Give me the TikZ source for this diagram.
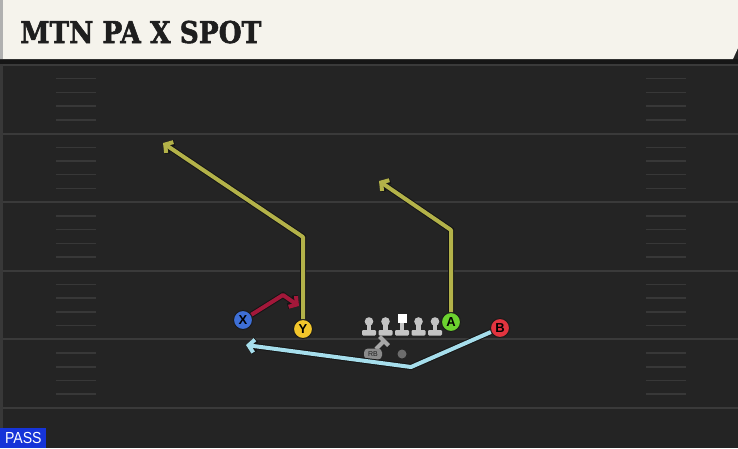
\documentclass[tikz,border=0pt]{standalone}
\usepackage{fontspec}
\usepackage{graphicx}
\usetikzlibrary{arrows.meta}
\setmainfont{Liberation Sans}
\newfontfamily\titlefont{DejaVu Serif}[BoldFeatures={FakeBold=2}]

\definecolor{field}{HTML}{242424}
\definecolor{yardline}{HTML}{3A3A3A}
\definecolor{hashline}{HTML}{383838}
\definecolor{fieldedge}{HTML}{383838}
\definecolor{banner}{HTML}{F5F3EC}
\definecolor{bannershadow}{HTML}{161616}
\definecolor{bannerside}{HTML}{B0B0B0}
\definecolor{titleink}{HTML}{1E1E1E}
\definecolor{passblue}{HTML}{1634D8}
\definecolor{xblue}{HTML}{3E6FD6}
\definecolor{yyellow}{HTML}{F3C62B}
\definecolor{agreen}{HTML}{6CD22F}
\definecolor{bred}{HTML}{E2343F}
\definecolor{playeredge}{HTML}{1A1A1A}
\definecolor{routeolive}{HTML}{B3B249}
\definecolor{routered}{HTML}{A3183A}
\definecolor{routeblue}{HTML}{A6DEEC}
\definecolor{routeedge}{HTML}{151515}
\definecolor{linegray}{HTML}{C4C4C4}
\definecolor{rbgray}{HTML}{8A8A8A}
\definecolor{qbgray}{HTML}{A8A8A8}
\definecolor{dotgray}{HTML}{6C6C6C}

\begin{document}
\begin{tikzpicture}[x=1pt,y=-1pt,>={Straight Barb[length=5.5pt,width=13pt]},node distance=16.5pt,semithick]
      \tikzstyle{player}=[circle,draw=playeredge,line width=1pt,minimum size=19pt,inner sep=0pt,text=black,font=\bfseries\fontsize{13}{13}\selectfont]
      \tikzstyle{route}=[->,line width=4pt,line join=round,preaction={draw=routeedge,line width=6pt}]
      \tikzstyle{lineman}=[inner sep=0pt,minimum size=1pt]

      % field
      \useasboundingbox (0,0) rectangle (738,448);
      \fill[field] (0,0) rectangle (738,448);
      \fill[fieldedge] (0,59) rectangle (3,448);
      \foreach \i in {0,...,5}
        \draw[yardline,line width=2pt] (3,65+68.6*\i) -- (738,65+68.6*\i);
      \foreach \i in {0,...,4}
        \foreach \k in {1,...,4} {
          \draw[hashline,line width=1.5pt] (56,65+68.6*\i+13.7*\k) -- (96,65+68.6*\i+13.7*\k);
          \draw[hashline,line width=1.5pt] (646,65+68.6*\i+13.7*\k) -- (686,65+68.6*\i+13.7*\k);
        }

      % title bar
      \fill[bannershadow] (0,59) rectangle (738,64);
      \fill[banner] (0,0) -- (738,0) -- (738,48) -- (733,59) -- (0,59) -- cycle;
      \fill[bannerside] (0,0) rectangle (3,59);
      \node[anchor=base west,inner sep=0pt,text=titleink,font=\titlefont\bfseries\fontsize{30}{30}\selectfont] (title) at (20,43) {\scalebox{0.88}[1]{MTN PA X SPOT}};

      \node[fill=passblue,text=white,anchor=south west,minimum width=46pt,minimum height=20pt,inner sep=0pt,font=\fontsize{16}{16}\selectfont] (pass) at (0,448) {\scalebox{0.88}[1]{PASS}};

      % line
      \node[lineman] (C)  at (402,327) {};
      \node[lineman] (LG) [left of=C]   {};
      \node[lineman] (LT) [left of=LG]  {};
      \node[lineman] (RG) [right of=C]  {};
      \node[lineman] (RT) [right of=RG] {};
      \foreach \n in {LT,LG,RG,RT} {
        \fill[linegray] ([shift={(0,-5.5)}]\n) circle (4.3pt);
        \fill[linegray] ([shift={(-2.3,-2)}]\n) rectangle ([shift={(2.3,4)}]\n);
        \fill[linegray,rounded corners=1.2pt] ([shift={(-7,3)}]\n) rectangle ([shift={(7,8.5)}]\n);
      }
      \fill[white] ([shift={(-4.5,-13.5)}]C) rectangle ([shift={(4.5,-4)}]C);
      \fill[linegray] ([shift={(-2.3,-4)}]C) rectangle ([shift={(2.3,4)}]C);
      \fill[linegray,rounded corners=1.2pt] ([shift={(-7,3)}]C) rectangle ([shift={(7,8.5)}]C);

      \coordinate (QB) at (384,341);
      \draw[qbgray,line width=4pt] (QB) -- ++(-8,8);
      \draw[qbgray,line width=4pt] ([shift={(-4.5,-4.5)}]QB) -- ([shift={(4.5,4.5)}]QB);
      \node[fill=rbgray,rounded corners=4pt,minimum width=18pt,minimum height=11pt,inner sep=0pt,text=titleink,font=\fontsize{7}{7}\selectfont] (RB) at (373,354) {RB};
      \node[circle,fill=dotgray,minimum size=9pt,inner sep=0pt] (ball) at (402,354) {};

      % routes
      \coordinate (ybrk)  at (303,237);
      \coordinate (yend)  at (163,143);
      \coordinate (abrk)  at (451,230);
      \coordinate (aend)  at (379,181);
      \coordinate (xbrk)  at (283,295);
      \coordinate (xend)  at (299,306);
      \coordinate (bbrk)  at (411,367);
      \coordinate (bstop) at (246,345);

      \node[player,fill=xblue]   (X) at (243,320) {X};
      \node[player,fill=yyellow] (Y) at (303,329) {Y};
      \node[player,fill=agreen]  (A) at (451,322) {A};
      \node[player,fill=bred]    (B) at (500,328) {B};

      \draw[route,routeolive] (Y) -- (ybrk) -- (yend);
      \draw[route,routeolive] (A) -- (abrk) -- (aend);
      \draw[route,routered]   (X) -- (xbrk) -- (xend);
      \draw[route,routeblue]  (B) -- (bbrk) -- (bstop);
\end{tikzpicture}
\end{document}
